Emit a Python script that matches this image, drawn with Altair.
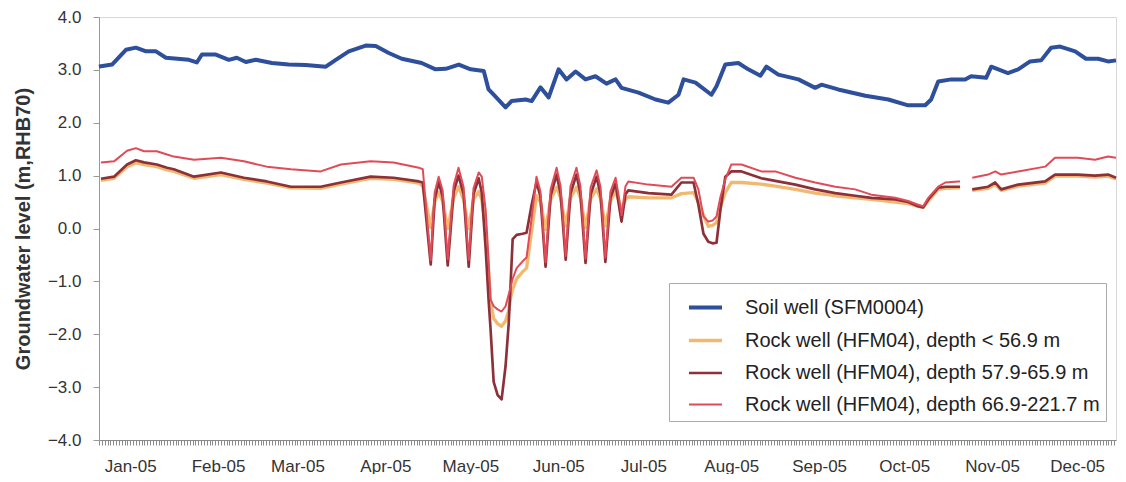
import json
import altair as alt
import pandas as pd

SERIES = [
    "Soil well (SFM0004)",
    "Rock well (HFM04), depth < 56.9 m",
    "Rock well (HFM04), depth 57.9-65.9 m",
    "Rock well (HFM04), depth 66.9-221.7 m",
]
COLORS = ["#2d4f9c", "#f2b870", "#8d3038", "#e04b57"]
WIDTHS = [4, 2, 2, 2]

MONTH_LABELS = ["Jan-05", "Feb-05", "Mar-05", "Apr-05", "May-05", "Jun-05",
                "Jul-05", "Aug-05", "Sep-05", "Oct-05", "Nov-05", "Dec-05"]
MONTH_DAYS = [15, 46, 74, 105, 135, 166, 196, 227, 258, 288, 319, 349]
Y_TICKS = [-4, -3, -2, -1, 0, 1, 2, 3, 4]
GAP_DAY = 310  # logger gap in early November (rock well)

# Soil well (day of year, level m RHB70)
SOIL_DAY = [4.0, 4.7, 8.6, 13.5, 17.0, 20.6, 24.1, 27.6, 35.7, 38.5, 40.3, 45.2, 49.8, 52.6,
            55.8, 59.3, 65.0, 70.9, 76.9, 84.0, 87.5, 92.1, 98.1, 101.6, 106.2, 110.8, 117.8,
            122.7, 126.3, 130.9, 135.1, 139.7, 141.4, 143.2, 147.4, 149.5, 154.5, 156.6, 159.7,
            162.6, 166.1, 168.9, 172.1, 175.6, 179.1, 183.0, 186.2, 188.3, 194.3, 200.3, 204.8,
            208.4, 210.2, 214.4, 220.0, 221.8, 224.9, 229.5, 233.0, 237.3, 239.4, 243.6, 250.7,
            256.6, 258.8, 264.7, 274.3, 282.4, 289.4, 295.4, 297.5, 300.0, 304.6, 309.5, 311.6,
            316.9, 318.7, 324.6, 328.2, 332.4, 336.3, 339.8, 343.0, 348.3, 352.1, 356.4, 359.9,
            362.7]
SOIL_LEVEL = [3.06, 3.07, 3.10, 3.38, 3.42, 3.35, 3.35, 3.23, 3.19, 3.14, 3.29, 3.29, 3.19, 3.23,
              3.15, 3.19, 3.13, 3.10, 3.09, 3.06, 3.19, 3.35, 3.46, 3.45, 3.32, 3.21, 3.13,
              3.01, 3.02, 3.10, 3.01, 2.98, 2.63, 2.53, 2.29, 2.41, 2.44, 2.41, 2.67,
              2.48, 3.01, 2.82, 2.97, 2.82, 2.88, 2.74, 2.82, 2.66, 2.57, 2.44, 2.38,
              2.53, 2.82, 2.76, 2.53, 2.69, 3.10, 3.13, 3.01, 2.89, 3.06, 2.91, 2.82,
              2.66, 2.72, 2.63, 2.51, 2.44, 2.33, 2.33, 2.44, 2.78, 2.82, 2.82, 2.88,
              2.85, 3.06, 2.94, 3.01, 3.16, 3.18, 3.42, 3.44, 3.35, 3.21, 3.21, 3.16,
              3.18]

# Rock well HFM04, three packed-off sections (day of year)
ROCK_DAY = [4.7, 9.3, 13.9, 17.0, 19.9, 24.4, 28.0, 30.4, 37.5, 47.0, 55.1, 63.2, 71.7, 82.2,
            89.3, 99.8, 107.9, 116.8,
            118.2, 121.0, 122.4, 123.8, 125.2, 127.0, 129.1, 130.8, 132.6, 134.4, 136.1, 137.9,
            139.0, 140.4, 141.4, 142.1, 143.2, 144.6, 146.0, 147.4, 148.5, 149.2, 149.9, 151.3,
            153.4, 154.8, 156.6,
            158.3, 159.7, 161.5, 163.3, 165.4, 166.8, 168.6, 170.3, 172.4, 173.8, 175.6, 177.4,
            179.5, 180.9, 182.6, 184.4, 186.2, 187.2, 188.3, 189.7,
            190.7, 197.8, 205.9, 209.4, 213.7, 215.4, 217.2, 218.9, 220.4, 221.8, 223.2, 224.9,
            227.0, 230.6, 237.6, 242.5, 249.6, 256.6, 263.7, 270.7, 276.4, 284.8, 289.4, 292.9,
            294.7, 296.5, 300.0, 302.5, 307.0, 307.7,
            312.0, 317.6, 320.1, 322.2, 328.2, 337.7, 341.2, 349.3, 355.3, 359.9, 362.7]
ROCK_SHALLOW = [0.91, 0.95, 1.17, 1.24, 1.21, 1.17, 1.11, 1.08, 0.95, 1.02, 0.93, 0.86, 0.77, 0.76,
                0.84, 0.95, 0.93, 0.86,
                0.80, 0.02, 0.50, 0.68, 0.52, 0.00, 0.58, 0.79, 0.55, 0.00, 0.55, 0.70,
                0.55, 0.00, -0.80, -1.40, -1.70, -1.80, -1.85, -1.75, -1.55, -1.30, -1.15, -0.95,
                -0.82, -0.75, -0.05,
                0.62, 0.50, -0.02, 0.55, 0.78, 0.58, 0.05, 0.58, 0.78, 0.58, 0.02, 0.56,
                0.75, 0.56, 0.05, 0.52, 0.70, 0.55, 0.35, 0.55,
                0.60, 0.58, 0.58, 0.66, 0.68, 0.50, 0.25, 0.04, 0.06, 0.11, 0.40, 0.68,
                0.87, 0.87, 0.84, 0.80, 0.74, 0.67, 0.62, 0.58, 0.55, 0.50, 0.47, 0.42,
                0.40, 0.52, 0.74, 0.76, 0.77, 0.77,
                0.72, 0.76, 0.83, 0.72, 0.80, 0.86, 0.99, 0.99, 0.97, 0.99, 0.94]
ROCK_MID = [0.94, 0.98, 1.21, 1.29, 1.25, 1.21, 1.15, 1.12, 0.98, 1.06, 0.96, 0.89, 0.79, 0.79,
            0.87, 0.98, 0.96, 0.89,
            0.87, -0.68, 0.55, 0.88, 0.60, -0.70, 0.70, 1.00, 0.65, -0.72, 0.65, 0.95,
            0.68, -0.40, -1.34, -1.90, -2.90, -3.15, -3.23, -2.60, -1.80, -1.02, -0.20, -0.12,
            -0.10, -0.08, 0.45,
            0.88, 0.60, -0.72, 0.62, 1.02, 0.66, -0.59, 0.66, 1.02, 0.66, -0.65, 0.64,
            0.98, 0.64, -0.63, 0.58, 0.85, 0.50, 0.13, 0.65,
            0.72, 0.67, 0.64, 0.87, 0.87, 0.45, -0.10, -0.25, -0.28, -0.27, 0.36, 0.98,
            1.08, 1.08, 0.95, 0.90, 0.83, 0.74, 0.67, 0.62, 0.58, 0.55, 0.50, 0.42,
            0.40, 0.55, 0.77, 0.79, 0.79, 0.79,
            0.74, 0.79, 0.87, 0.74, 0.83, 0.89, 1.02, 1.02, 1.00, 1.02, 0.96]
ROCK_DEEP = [1.25, 1.27, 1.47, 1.52, 1.46, 1.46, 1.40, 1.36, 1.30, 1.34, 1.27, 1.17, 1.12, 1.08,
             1.21, 1.27, 1.25, 1.15,
             1.12, -0.60, 0.68, 0.98, 0.72, -0.58, 0.82, 1.15, 0.78, -0.60, 0.76, 1.06,
             0.98, 0.34, -0.60, -1.34, -1.47, -1.53, -1.57, -1.47, -1.25, -1.10, -0.95, -0.75,
             -0.62, -0.55, 0.20,
             0.98, 0.70, -0.64, 0.74, 1.15, 0.80, -0.52, 0.80, 1.15, 0.80, -0.57, 0.78,
             1.10, 0.78, -0.55, 0.70, 0.96, 0.65, 0.25, 0.80,
             0.89, 0.83, 0.79, 0.96, 0.96, 0.74, 0.23, 0.13, 0.15, 0.23, 0.60, 0.93,
             1.21, 1.21, 1.08, 1.08, 0.96, 0.87, 0.79, 0.74, 0.64, 0.58, 0.52, 0.45,
             0.42, 0.58, 0.79, 0.87, 0.89, 0.89,
             0.96, 1.02, 1.08, 1.02, 1.08, 1.17, 1.34, 1.34, 1.30, 1.36, 1.34]

assert len(SOIL_DAY) == len(SOIL_LEVEL)
assert len(ROCK_DAY) == len(ROCK_SHALLOW) == len(ROCK_MID) == len(ROCK_DEEP)

rows = []
for d, v in zip(SOIL_DAY, SOIL_LEVEL):
    rows.append({"day": d, "level": v, "series": SERIES[0], "seg": 0, "order": 0})
for k, vals in enumerate([ROCK_SHALLOW, ROCK_MID, ROCK_DEEP], start=1):
    for d, v in zip(ROCK_DAY, vals):
        rows.append({"day": d, "level": v, "series": SERIES[k],
                     "seg": 0 if d < GAP_DAY else 1, "order": k})
df = pd.DataFrame(rows)
df["key"] = df["series"] + "_" + df["seg"].astype(str)

label_expr = "indexof({d}, datum.value) >= 0 ? {l}[indexof({d}, datum.value)] : ''".format(
    d=json.dumps(MONTH_DAYS), l=json.dumps(MONTH_LABELS))

legend_kw = dict(orient="none", legendX=570, legendY=266, title=None,
                 symbolType="stroke", symbolSize=1089, symbolOffset=12, labelFontSize=20,
                 labelColor="#222", labelLimit=700, labelOffset=21,
                 rowPadding=4, padding=6, strokeColor="#aaa", fillColor="white")

chart = alt.Chart(df).mark_line(strokeJoin="round").encode(
    x=alt.X("day:Q",
            scale=alt.Scale(domain=[4, 362.7], nice=False, zero=False),
            axis=alt.Axis(values=list(range(4, 363)), labelExpr=label_expr, title=None,
                          grid=False, tickSize=5, tickColor="#8a8a8a", domainColor="#8a8a8a",
                          labelFontSize=17, labelPadding=13, labelColor="#333",
                          labelOverlap=False, labelFlush=False, labelBound=False)),
    y=alt.Y("level:Q",
            scale=alt.Scale(domain=[-4, 4], nice=False, zero=False),
            axis=alt.Axis(values=Y_TICKS, format=".1f", title="Groundwater level (m,RHB70)",
                          grid=False, tickSize=6, tickColor="#999", domainColor="#999",
                          labelFontSize=17, labelPadding=12, labelColor="#333",
                          titleFontSize=20, titleFontWeight="bold", titleColor="#333",
                          titlePadding=14)),
    color=alt.Color("series:N",
                    scale=alt.Scale(domain=SERIES, range=COLORS),
                    legend=alt.Legend(**legend_kw)),
    strokeWidth=alt.StrokeWidth("series:N",
                                scale=alt.Scale(domain=SERIES, range=WIDTHS),
                                legend=alt.Legend(**legend_kw)),
    detail="key:N",
    order="order:Q",
).properties(
    width=1110, height=466,
    autosize=alt.AutoSizeParams(type="fit", contains="padding"),
    padding={"left": 5, "top": 0, "right": 0, "bottom": 0},
).configure(
    font="Liberation Sans",
).configure_view(
    stroke="#d8d8d8",
)

chart.save("out.html", embed_options={"renderer": "svg", "actions": False})
